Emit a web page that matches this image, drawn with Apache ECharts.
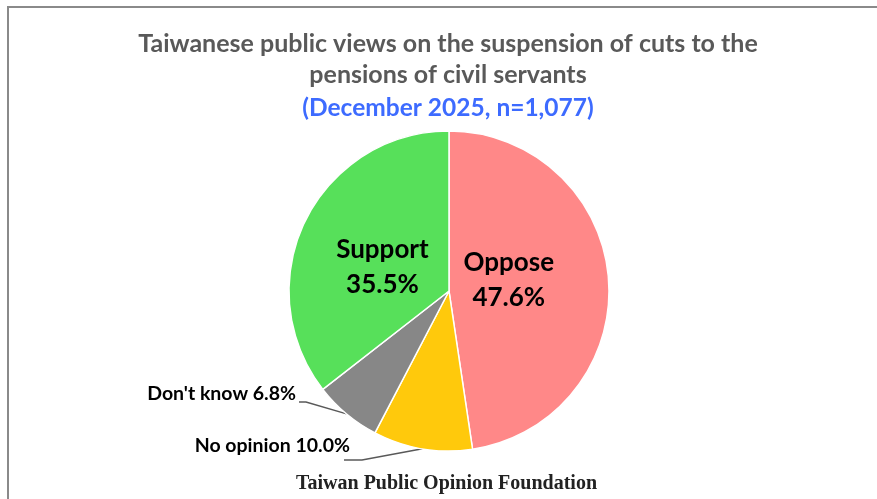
<!DOCTYPE html>
<html>
<head>
<meta charset="utf-8">
<script src="https://cdn.jsdelivr.net/npm/echarts@6/dist/echarts.min.js"></script>
<style>
  html, body { margin: 0; padding: 0; background: #ffffff; }
  #chart { width: 877px; height: 499px; }
</style>
</head>
<body>
<div id="chart"></div>
<script>
// Survey answers, clockwise from 12 o'clock
const categories = ['Oppose', 'No opinion', "Don't know", 'Support'];
const shares = [47.6, 10.0, 6.8, 35.5];
const sliceColors = ['#FF8888', '#FFC90C', '#878787', '#57E05A'];

const titleText = 'Taiwanese public views on the suspension of cuts to the\npensions of civil servants';
const subtitleText = '(December 2025, n=1,077)';
const sourceText = 'Taiwan Public Opinion Foundation';

const chart = echarts.init(document.getElementById('chart'), null, { renderer: 'canvas' });

const insideLabel = {
  show: true,
  position: 'inside',
  formatter: p => p.name + '\n' + p.value.toFixed(1) + '%',
  color: '#000',
  fontFamily: 'Lato',
  fontWeight: 'bold',
  fontSize: 26,
  lineHeight: 35
};
const outsideLabel = {
  show: true,
  position: 'outside',
  formatter: p => p.name + ' ' + p.value.toFixed(1) + '%',
  color: '#000',
  fontFamily: 'Lato',
  fontWeight: 'bold',
  fontSize: 19.5
};

const pieData = categories.map((name, i) => {
  const big = shares[i] > 20;
  return {
    name: name,
    value: shares[i],
    itemStyle: { color: sliceColors[i] },
    label: big ? insideLabel : outsideLabel,
    labelLine: { show: !big, length: 10, length2: 10, lineStyle: { color: '#595959', width: 1.5 } }
  };
});

// Where the outside labels sit and how their leader lines bend
const outsidePlacement = {
  1: { x: 350, y: 446, bendDx: 12, bendDy: 14, endDx: -6, endDy: 14 },
  2: { x: 296, y: 394, bendDx: 10, bendDy: 8, endDx: 3, endDy: 8 }
};

// Horizontal centre of the heading block
const headingCenterX = 448;

chart.setOption({
  backgroundColor: '#ffffff',
  animation: false,
  title: [
    {
      text: sourceText,
      left: 291,
      top: 469,
      textStyle: { fontFamily: 'Liberation Serif', fontWeight: 'bold', fontSize: 20, color: '#222' }
    }
  ],
  graphic: [
    {
      type: 'rect',
      silent: true,
      shape: { x: 8, y: 7, width: 960, height: 600 },
      style: { fill: null, stroke: '#8a8a8a', lineWidth: 2 }
    },
    {
      type: 'text',
      silent: true,
      x: headingCenterX,
      y: 28,
      style: {
        text: titleText,
        align: 'center',
        verticalAlign: 'top',
        fontFamily: 'Lato',
        fontWeight: 'bold',
        fontSize: 25,
        lineHeight: 31,
        fill: '#595959'
      }
    },
    {
      type: 'text',
      silent: true,
      x: headingCenterX,
      y: 94,
      style: {
        text: subtitleText,
        align: 'center',
        verticalAlign: 'top',
        fontFamily: 'Lato',
        fontWeight: 'bold',
        fontSize: 24.5,
        lineHeight: 28,
        fill: '#3D6BFF'
      }
    }
  ],
  series: [
    {
      type: 'pie',
      center: [449, 291],
      radius: [0, 160],
      startAngle: 90,
      clockwise: true,
      avoidLabelOverlap: false,
      itemStyle: { borderColor: '#ffffff', borderWidth: 1.5 },
      emphasis: { disabled: true },
      data: pieData,
      labelLayout: function (params) {
        const idx = params.dataIndex;
        if (idx === 0) return { dx: -23, dy: -5 };
        if (idx === 3) return { dx: 8, dy: 13 };
        const pl = outsidePlacement[idx];
        if (!pl || !params.labelLinePoints) return {};
        const start = params.labelLinePoints[0];
        return {
          x: pl.x,
          y: pl.y,
          align: 'right',
          verticalAlign: 'middle',
          labelLinePoints: [
            start,
            [pl.x + pl.bendDx, pl.y + pl.bendDy],
            [pl.x + pl.endDx, pl.y + pl.endDy]
          ]
        };
      }
    }
  ]
});
</script>
</body>
</html>
